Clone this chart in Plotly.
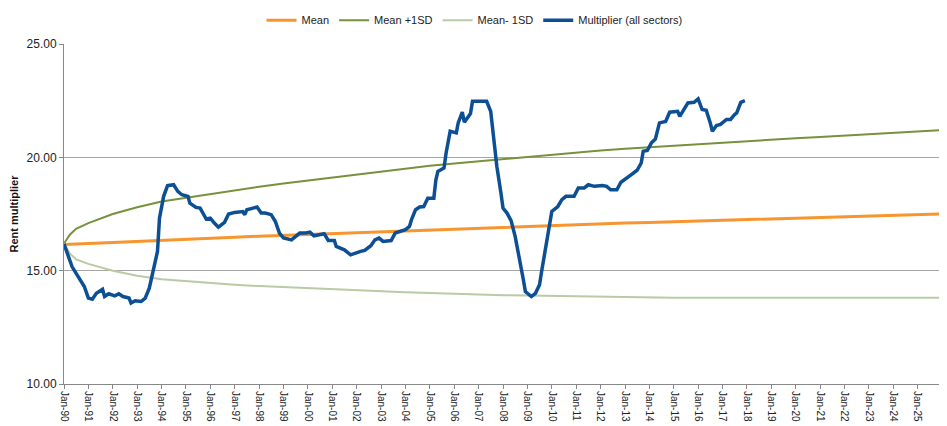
import plotly.graph_objects as go

# ---- Data ----
mult_dates = [
    "1990-01", "1990-05", "1990-08", "1990-11", "1991-01", "1991-03", "1991-05", "1991-08",
    "1991-09", "1991-11", "1992-02", "1992-04", "1992-06", "1992-09", "1992-10", "1992-12",
    "1993-03", "1993-05", "1993-07", "1993-09", "1993-11", "1993-12", "1994-02", "1994-04",
    "1994-07", "1994-09", "1994-11", "1995-02", "1995-03", "1995-06", "1995-08", "1995-11",
    "1996-01", "1996-03", "1996-05", "1996-08", "1996-10", "1997-01", "1997-05", "1997-06",
    "1997-07", "1997-10", "1997-12", "1998-02", "1998-04", "1998-07", "1998-09", "1998-11",
    "1999-01", "1999-05", "1999-07", "1999-09", "1999-12", "2000-02", "2000-04", "2000-06",
    "2000-09", "2000-11", "2001-02", "2001-03", "2001-07", "2001-10", "2001-12", "2002-03",
    "2002-05", "2002-08", "2002-10", "2002-12", "2003-02", "2003-06", "2003-08", "2003-11",
    "2004-01", "2004-03", "2004-04", "2004-06", "2004-08", "2004-10", "2004-12", "2005-03",
    "2005-04", "2005-05", "2005-08", "2005-09", "2005-11", "2006-02", "2006-03", "2006-05",
    "2006-06", "2006-09", "2006-10", "2007-01", "2007-05", "2007-07", "2007-08", "2007-10",
    "2007-12", "2008-01", "2008-03", "2008-05", "2008-07", "2008-09", "2008-11", "2008-12",
    "2009-03", "2009-05", "2009-07", "2009-08", "2009-10", "2009-12", "2010-01", "2010-04",
    "2010-06", "2010-08", "2010-12", "2011-02", "2011-05", "2011-07", "2011-10", "2012-02",
    "2012-04", "2012-06", "2012-09", "2012-11", "2013-02", "2013-04", "2013-07", "2013-09",
    "2013-10", "2013-12", "2014-02", "2014-04", "2014-06", "2014-09", "2014-11", "2015-03",
    "2015-04", "2015-06", "2015-08", "2015-11", "2016-01", "2016-03", "2016-05", "2016-07",
    "2016-08", "2016-10", "2016-12", "2017-03", "2017-05", "2017-07", "2017-08", "2017-10",
    "2017-12",
]
mult_values = [
    16.18, 15.18, 14.74, 14.30, 13.79, 13.74, 14.00, 14.18,
    13.86, 13.98, 13.89, 13.98, 13.86, 13.79, 13.57, 13.67,
    13.64, 13.79, 14.23, 15.04, 15.85, 17.32, 18.28, 18.75,
    18.79, 18.50, 18.35, 18.28, 17.98, 17.79, 17.76, 17.28,
    17.32, 17.10, 16.92, 17.13, 17.50, 17.57, 17.61, 17.47,
    17.69, 17.76, 17.81, 17.54, 17.54, 17.47, 17.17, 16.66,
    16.44, 16.36, 16.51, 16.66, 16.66, 16.70, 16.54, 16.58,
    16.63, 16.33, 16.33, 16.07, 15.92, 15.70, 15.77, 15.85,
    15.89, 16.10, 16.36, 16.44, 16.29, 16.33, 16.66, 16.77,
    16.81, 16.95, 17.25, 17.69, 17.81, 17.83, 18.20, 18.20,
    19.01, 19.38, 19.53, 20.19, 21.15, 21.08, 21.52, 21.99,
    21.55, 21.93, 22.47, 22.47, 22.47, 22.03, 21.22, 19.60,
    18.43, 17.76, 17.54, 17.21, 16.51, 15.63, 14.60, 14.08,
    13.86, 14.00, 14.38, 14.96, 16.07, 17.10, 17.61, 17.83,
    18.13, 18.28, 18.28, 18.65, 18.65, 18.79, 18.72, 18.76,
    18.72, 18.57, 18.57, 18.90, 19.13, 19.23, 19.43, 19.75,
    20.27, 20.30, 20.64, 20.81, 21.52, 21.58, 21.99, 22.03,
    21.81, 22.08, 22.40, 22.43, 22.58, 22.11, 22.08, 21.52,
    21.15, 21.40, 21.45, 21.67, 21.67, 21.89, 21.96, 22.43,
    22.50,
]

stat_dates = [
    "1990-01", "1990-04", "1990-07", "1991-01", "1992-01", "1993-01", "1994-01", "1995-01",
    "1996-01", "1997-01", "1998-01", "1999-01", "2000-01", "2001-01", "2002-01", "2003-01",
    "2004-01", "2005-01", "2006-01", "2007-01", "2008-01", "2009-01", "2010-01", "2011-01",
    "2012-01", "2013-01", "2014-01", "2015-01", "2016-01", "2017-01", "2018-01", "2019-01",
    "2020-01", "2021-01", "2022-01", "2023-01", "2024-01", "2025-01", "2025-12",
]
mean_values = [
    16.15, 16.17, 16.18, 16.20, 16.24, 16.28, 16.32, 16.37,
    16.42, 16.47, 16.52, 16.56, 16.60, 16.64, 16.68, 16.72,
    16.77, 16.81, 16.85, 16.89, 16.93, 16.97, 17.00, 17.03,
    17.07, 17.10, 17.13, 17.16, 17.19, 17.22, 17.26, 17.29,
    17.32, 17.35, 17.38, 17.41, 17.44, 17.47, 17.50,
]
plus_sd_values = [
    16.20, 16.60, 16.85, 17.10, 17.50, 17.80, 18.05, 18.22,
    18.38, 18.55, 18.70, 18.85, 18.98, 19.10, 19.23, 19.38,
    19.52, 19.63, 19.73, 19.83, 19.93, 20.03, 20.13, 20.22,
    20.30, 20.38, 20.45, 20.52, 20.59, 20.65, 20.72, 20.78,
    20.84, 20.90, 20.96, 21.02, 21.08, 21.14, 21.20,
]
minus_sd_values = [
    16.20, 15.75, 15.50, 15.30, 15.00, 14.78, 14.62, 14.53,
    14.45, 14.38, 14.32, 14.27, 14.22, 14.18, 14.13, 14.09,
    14.05, 14.02, 13.98, 13.95, 13.92, 13.90, 13.88, 13.86,
    13.84, 13.83, 13.82, 13.81, 13.80, 13.80, 13.79, 13.79,
    13.78, 13.78, 13.78, 13.78, 13.79, 13.79, 13.80,
]

y_ticks = [10, 15, 20, 25]
y_tick_labels = ["10.00", "15.00", "20.00", "25.00"]

FONT = "Liberation Sans, Arial, sans-serif"

fig = go.Figure()
fig.add_trace(go.Scatter(x=stat_dates, y=mean_values, mode="lines", name="Mean",
                         line=dict(color="#F7962F", width=3)))
fig.add_trace(go.Scatter(x=stat_dates, y=plus_sd_values, mode="lines", name="Mean +1SD",
                         line=dict(color="#76923C", width=2)))
fig.add_trace(go.Scatter(x=stat_dates, y=minus_sd_values, mode="lines", name="Mean- 1SD",
                         line=dict(color="#B7CBA4", width=2)))
fig.add_trace(go.Scatter(x=mult_dates, y=mult_values, mode="lines", name="Multiplier (all sectors)",
                         line=dict(color="#0D4F95", width=3.5)))

# The page body has an 8px margin, so the figure is sized to fit the 947x426 window.
fig.update_layout(
    width=939, height=418,
    margin=dict(l=56, r=5, t=36, b=42, autoexpand=False),
    paper_bgcolor="white", plot_bgcolor="white",
    font=dict(family=FONT, size=11, color="#222"),
    legend=dict(orientation="h", x=0.225, xanchor="left", y=1.07, yanchor="middle",
                font=dict(size=11, color="#222"), itemwidth=30, tracegroupgap=0,
                bgcolor="rgba(0,0,0,0)"),
    showlegend=True,
)
fig.update_xaxes(
    type="date", range=["1990-01-01", "2025-12-31"],
    tick0="1990-01-01", dtick="M12", tickformat="%b-%y", tickangle=90,
    showgrid=False, showline=True, linecolor="#888", linewidth=1,
    ticks="outside", ticklen=4, tickcolor="#888",
    tickfont=dict(size=10, color="#222"), automargin=False,
)
fig.update_yaxes(
    range=[10, 25], tickvals=y_ticks, ticktext=y_tick_labels,
    showgrid=True, gridcolor="#A6A6A6", gridwidth=1,
    showline=True, linecolor="#888", linewidth=1,
    ticks="outside", ticklen=4, tickcolor="#888",
    tickfont=dict(size=12, color="#222"),
    title=dict(text="<b>Rent multiplier</b>", font=dict(size=11, color="#111"), standoff=8),
    zeroline=False, automargin=False,
)

fig.write_html("out.html")
